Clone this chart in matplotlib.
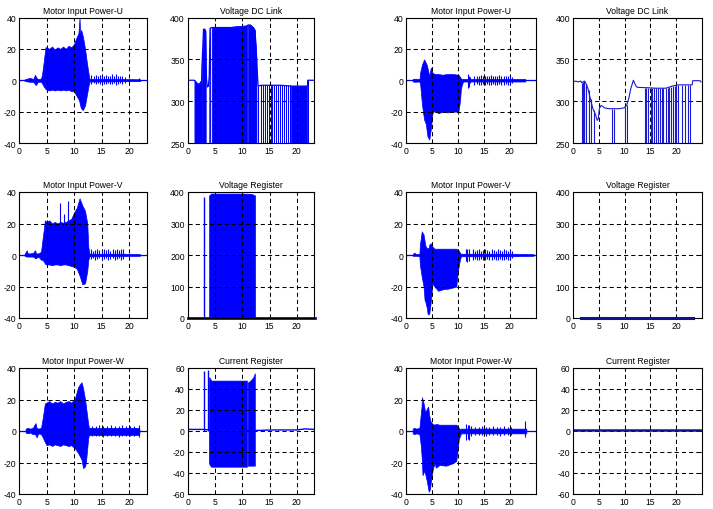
"""
Motor power / DC link / register traces, two runs side by side (MATLAB-style grid).
"""

import numpy as np
import matplotlib
matplotlib.use("Agg")
import matplotlib.pyplot as plt

plt.rcParams["font.family"] = ["Liberation Sans", "DejaVu Sans"]
plt.rcParams["lines.scale_dashes"] = False
plt.rcParams["axes.unicode_minus"] = False

BLUE = "#0000ff"
NAVY = "#12128e"

# ---------------------------------------------------------------
# Data (time in s)
# ---------------------------------------------------------------
# -- left run: Motor Input Power-U (envelope of the dense trace)
pu_l_t = [1.0, 1.6, 2.0, 2.6, 2.9, 3.1, 3.4, 4.0, 4.2, 4.5, 4.8, 5.0, 5.5, 6.0, 6.5, 7.0, 7.5,
          8.0, 8.5, 9.0, 9.5, 10.0, 10.3, 10.8, 11.0, 11.1, 11.3, 11.6, 12.0, 12.3, 12.6,
          12.8, 19.3, 22.0]
pu_l_hi = [0.5, 1.2, 1.5, 0.8, 3.5, 2.0, 0.8, 1.0, 4, 12, 21, 21, 20, 21.5, 19.5, 21, 20,
           21.5, 20, 22, 21, 23, 26, 30, 40, 30, 32, 28, 20, 12, 5, 0.8, 0.8, 0.6]
pu_l_lo = [-0.5, -0.8, -1.0, -1.0, -2.5, -3.0, -1.0, -1.0, -2, -4, -5.5, -6, -6.5, -6, -6.5,
           -6, -6.5, -6, -6.5, -6, -7, -7, -9, -12, -14, -16, -18, -19, -16, -10, -4, -0.8,
           -0.6, -0.5]
pu_l_spk_t = [13.1, 13.6, 13.9, 14.3, 14.7, 15.0, 15.4, 15.8, 16.1, 16.5, 16.9, 17.3, 17.6,
              18.0, 18.4, 18.8, 19.2, 21.8]
pu_l_spk_hi = [3.5, 2.5, 3.5, 3.0, 3.5, 2.5, 3.0, 3.5, 2.5, 3.0, 4.0, 3.0, 4.0, 3.0, 2.5,
               3.0, 2.0, 1.5]
pu_l_spk_lo = [-2.5, -2.0, -2.5, -2.0, -2.5, -2.0, -2.5, -2.5, -2.0, -2.5, -2.5, -2.0, -3.0,
               -2.5, -2.0, -2.5, -1.5, -0.5]

# -- left run: Motor Input Power-V
pv_l_t = [1.0, 1.4, 1.6, 2.0, 2.6, 2.9, 3.1, 3.5, 4.0, 4.2, 4.5, 4.7, 5.0, 5.5, 6.0, 6.5,
          7.0, 7.5, 8.0, 8.5, 9.0, 9.5, 10.0, 10.5, 11.0, 11.5, 12.0, 12.4, 12.6, 12.8,
          19.2, 22.0]
pv_l_hi = [0.5, 3.0, 1.0, 1.0, 1.5, 3.0, 1.0, 1.0, 2.0, 8, 16, 22, 21, 22, 20, 21, 20, 21,
           20.5, 21, 22, 23, 27, 30, 36, 31.5, 28, 20, 5, 0.8, 0.8, 0.5]
pv_l_lo = [-0.5, -1.0, -1.0, -1.0, -1.0, -2.0, -2.0, -1.0, -3.0, -3, -4, -5.5, -6, -6, -6.5,
           -6, -6, -6.5, -6, -6, -6.5, -7, -7.5, -8.7, -13, -18.6, -18, -10, -3, -0.8, -0.6,
           -0.5]
pv_l_spk_t = [7.5, 8.2, 8.9, 13.0, 13.4, 13.8, 14.2, 14.6, 15.0, 15.4, 15.8, 16.2, 16.6,
              17.0, 17.4, 17.8, 18.2, 18.6, 18.9]
pv_l_spk_hi = [33, 26, 34, 3.5, 2.5, 3.0, 4.0, 3.0, 2.5, 3.5, 3.0, 4.0, 2.5, 3.5, 3.0, 4.0,
               3.0, 3.5, 4.0]
pv_l_spk_lo = [0, 0, 0, -2.5, -2.0, -3.0, -2.5, -2.0, -3.0, -2.5, -2.0, -3.0, -2.5, -2.0,
               -3.0, -2.5, -2.0, -3.0, -2.5]

# -- left run: Motor Input Power-W
pw_l_t = [1.2, 1.6, 2.0, 2.5, 2.9, 3.0, 3.2, 3.5, 4.0, 4.3, 4.7, 5.0, 5.5, 6.0, 6.5, 7.0,
          7.5, 8.0, 8.5, 9.0, 9.5, 10.15, 10.75, 11.35, 11.65, 12.0, 12.15, 12.4, 12.55,
          12.7, 21.8, 21.9]
pw_l_hi = [1.5, 2.0, 1.5, 2.0, 4.5, 5.0, 2.0, 1.5, 2.0, 8, 17.5, 18, 19, 17.5, 18.5, 18, 19,
           17.5, 18.5, 19, 18, 20.6, 28, 31, 27, 20, 16, 9, 5, 2.0, 2.0, 0.5]
pw_l_lo = [-1.0, -1.5, -1.0, -2.0, -2.0, -2.5, -4.0, -1.5, -2.0, -4, -7, -9, -8.5, -9.5,
           -8.5, -9, -9.5, -8.5, -9, -9.5, -9, -11, -14, -18, -23.6, -22.5, -20, -11, -5,
           -2.5, -2.5, -0.5]
pw_l_spk_t = [13.2, 13.9, 14.6, 15.3, 16.0, 16.7, 17.4, 18.1, 18.8, 19.5, 20.2, 20.9, 21.8]
pw_l_spk_hi = [3.0, 3.0, 3.5, 3.0, 3.0, 3.5, 3.0, 3.0, 3.5, 3.0, 3.0, 3.0, 3.5]
pw_l_spk_lo = [-3.0, -3.0, -3.0, -3.5, -3.0, -3.0, -3.0, -3.5, -3.0, -3.0, -3.0, -3.0, -3.5]

# -- left run: Voltage DC Link (upper trace, filled spans, drop-outs)
dcl_l_t = [0, 1.23, 1.5, 1.8, 2.1, 2.4, 2.55, 2.6, 2.75, 2.9, 3.1, 3.26, 3.3, 3.45, 3.6,
           3.8, 3.95, 4.1, 4.4, 5.0, 6.0, 7.0, 8.0, 9.0, 10.0, 10.9, 11.05, 11.5, 12.0,
           12.3, 12.6, 12.9, 13.5, 15.0, 17.0, 19.0, 21.95, 22.0, 23.3]
dcl_l_v = [325, 325, 323, 321, 320, 323, 324, 340, 362, 386, 386, 384, 360, 326, 317, 318,
           330, 387, 388, 388, 388, 388, 388, 389, 389, 390, 391, 391, 388, 385, 352, 318,
           319, 319, 319, 318, 318, 325, 325]
dcl_l_fill = [(1.23, 2.55), (2.6, 3.3), (3.95, 4.1), (4.4, 10.9), (11.05, 12.6),
              (19.0, 21.95)]
dcl_l_drop_t = [12.9, 13.5, 13.85, 14.15, 14.6, 14.95, 15.2, 15.5, 15.8, 16.25, 16.55,
                16.9, 17.2, 17.65, 18.1, 18.45, 18.7, 22.0]
dcl_l_drop_v = [318, 319, 319, 319, 319, 319, 319, 319, 319, 319, 319, 319, 319, 319, 319,
                319, 319, 325]

# -- left run: Voltage Register
vr_l_spk_t = [3.07]
vr_l_spk_v = [384]
vr_l_t = [3.93, 4.3, 6.0, 8.0, 10.0, 11.7, 12.33]
vr_l_v = [389, 395, 395, 395, 395, 394, 389]

# -- left run: Current Register
cr_l_base_t = [0, 3.0, 3.8, 12.4, 16.0, 20.0, 21.5, 23.2]
cr_l_base_v = [1.5, 1.5, 1.0, 0.5, 1.0, 1.0, 2.0, 1.5]
cr_l_spk_t = [3.07, 3.74]
cr_l_spk_v = [57, 57.8]
cr_l_t = [3.9, 4.0, 4.3, 6.0, 8.0, 10.0, 10.85, 11.0, 11.5, 12.0, 12.3]
cr_l_hi = [51, 51, 48, 48, 48, 48, 48, 46, 48, 51, 55]
cr_l_lo = [-30, -32, -34, -34, -34, -34, -34, -33, -33, -33, -33]

# -- right run: Motor Input Power-U
pu_r_t = [1.3, 1.8, 2.3, 2.63, 2.75, 3.1, 3.5, 3.85, 4.0, 4.15, 4.5, 4.8, 5.1, 5.3, 5.6,
          6.3, 7.0, 8.0, 9.0, 10.1, 10.3, 10.45, 10.6, 11.0, 20.5, 23.0]
pu_r_hi = [0.8, 1.0, 0.8, 1.0, 5.0, 10, 13.3, 11, 10, 8, 2.7, 8, 5, 4.4, 4, 4, 3.5, 4, 4,
           3.5, 2.7, 2, 1, 0.8, 0.8, 0.8]
pu_r_lo = [-0.8, -1.0, -0.8, -1.0, -2.7, -15.5, -25, -28, -32, -35.7, -37.8, -31, -21, -20,
           -19.7, -21, -20, -20.5, -20, -20, -16, -12, -5, -0.8, -0.8, -0.8]
pu_r_spk_t = [11.9, 12.2, 12.4, 13.2, 13.6, 14.0, 14.4, 14.8, 15.2, 15.6, 16.0, 16.4, 16.8,
              17.2, 17.6, 18.0, 18.4, 18.8, 19.2, 19.6, 20.0, 20.4]
pu_r_spk_hi = [4.0, 3.0, 2.0, 3.0, 2.5, 3.0, 3.5, 2.5, 3.0, 3.0, 2.5, 3.5, 3.0, 2.5, 3.0,
               3.5, 2.5, 3.0, 3.0, 2.5, 3.0, 2.0]
pu_r_spk_lo = [-5.0, -4.0, -2.0, -3.0, -2.5, -3.0, -3.0, -2.5, -3.0, -2.5, -3.0, -3.0,
               -2.5, -3.0, -3.0, -2.5, -3.0, -3.0, -2.5, -3.0, -2.5, -2.0]

# -- right run: Motor Input Power-V
pv_r_t = [1.3, 1.6, 2.0, 2.6, 2.7, 3.05, 3.4, 3.6, 3.7, 3.9, 4.0, 4.2, 4.35, 4.5, 4.75, 5.1,
          5.2, 5.5, 6.2, 7.1, 8.4, 9.7, 9.9, 10.1, 10.4, 10.6, 20.5, 24.6]
pv_r_hi = [0.5, 1.5, 0.5, 0.8, 6.5, 15, 13, 9, 6.5, 5, 4.4, 4.4, 4.0, 6.5, 7.5, 5.5, 5, 4,
           4, 4, 4, 4, 3.5, 3.3, 1.5, 0.8, 0.8, 0.5]
pv_r_lo = [-0.5, -0.5, -0.5, -0.8, -6.3, -13.8, -20, -28.7, -29, -31.9, -33, -37.6, -37.6,
           -37.2, -30.8, -18, -18.5, -20, -22.7, -21.8, -21.2, -20, -13.8, -8.4, -3, -0.8,
           -0.8, -0.5]
pv_r_spk_t = [11.5, 11.8, 12.1, 12.9, 13.3, 13.7, 14.1, 14.5, 14.9, 15.3, 15.7, 16.1, 16.5,
              16.9, 17.3, 17.7, 18.1, 18.5, 18.9, 19.3, 19.7, 20.1, 20.45]
pv_r_spk_hi = [4.0, 3.5, 4.0, 3.5, 2.5, 3.0, 3.5, 2.5, 3.0, 3.5, 3.0, 2.5, 3.5, 3.0, 2.5,
               3.5, 3.0, 2.5, 3.5, 3.0, 2.5, 3.0, 2.5]
pv_r_spk_lo = [-4.0, -4.5, -4.0, -3.0, -2.5, -3.0, -3.0, -2.5, -3.0, -3.0, -2.5, -3.0,
               -3.0, -2.5, -3.0, -3.0, -2.5, -3.0, -3.0, -2.5, -3.0, -2.5, -2.0]

# -- right run: Motor Input Power-W
pw_r_t = [1.3, 1.6, 2.0, 2.6, 2.9, 3.0, 3.1, 3.2, 3.35, 3.55, 3.7, 3.9, 4.05, 4.2, 4.3, 4.4,
          4.5, 4.65, 4.85, 5.15, 5.5, 5.8, 6.45, 7.75, 9.0, 9.7, 9.9, 10.1, 10.2, 10.45,
          10.6, 20.5, 23.2]
pw_r_hi = [1.5, 2.0, 1.5, 2.0, 12, 15, 21.4, 20, 18.5, 15, 12, 13, 14.2, 15, 15.3, 12, 9.9,
           7, 5.5, 4.5, 4, 4.5, 4, 4, 4, 4, 3.4, 2.5, 1.8, 1, 1.5, 1.5, 1.5]
pw_r_lo = [-1.5, -2.0, -1.5, -2.0, -10, -15, -20, -28, -27, -25, -27, -30, -32, -35, -37,
           -38.5, -38, -36.8, -31, -24.8, -20.5, -23.3, -21.6, -22, -20.5, -19, -14, -7.5,
           -5, -3, -1.5, -1.5, -1.5]
pw_r_spk_t = [11.6, 11.9, 12.2, 12.5, 13.3, 14.0, 14.7, 15.4, 16.1, 16.8, 17.5, 18.2,
              18.9, 19.6, 20.3, 23.0]
pw_r_spk_hi = [4.4, 3.5, 4.0, 3.0, 2.5, 2.5, 3.0, 2.5, 2.5, 3.0, 2.5, 2.5, 3.0, 2.5, 2.5,
               6.6]
pw_r_spk_lo = [-6.0, -5.0, -5.5, -3.0, -2.5, -2.5, -2.5, -3.0, -2.5, -2.5, -2.5, -3.0,
               -2.5, -2.5, -2.5, -3.8]

# -- right run: Voltage DC Link
dcl_r_t = [0, 0.5, 1.0, 1.5, 1.7, 2.25, 2.6, 2.9, 3.2, 3.85, 4.3, 4.7, 4.9, 5.1, 5.45, 5.8,
           6.1, 7.0, 8.0, 9.0, 9.9, 10.4, 10.8, 11.2, 11.7, 11.9, 12.2, 12.5, 14.7, 16.0,
           18.0, 19.2, 20.5, 23.1, 23.2, 24.6, 24.8]
dcl_r_v = [323, 324, 323, 324, 322, 324, 320, 315, 307, 291, 285, 277, 279, 291, 295,
           293.5, 292, 291, 291, 291, 292, 295, 303, 315, 325, 322, 318, 316.5, 316, 315.5,
           315.5, 318, 319.5, 319.5, 324.5, 324.5, 323]
dcl_r_drop_t = [1.73, 1.86, 2.05, 2.18, 2.56, 3.08, 3.53, 4.04, 7.5, 8.0, 10.13, 10.38,
                13.97, 14.2, 14.6, 15.06, 15.4, 15.7, 16.15, 16.5, 16.86, 17.2, 17.5, 17.95,
                18.33, 18.7, 19.04, 19.42, 19.74, 20.0, 20.4, 21.15, 21.8, 22.3, 22.76]
dcl_r_drop_v = [322, 323, 324, 324, 320, 313, 303, 290, 291, 291, 293, 295, 316, 316, 316,
                315.5, 315.5, 315.5, 315.5, 315.5, 315.5, 315.5, 315.5, 315.5, 316, 317,
                317.5, 318, 318.5, 319, 319.5, 319.5, 319.5, 319.5, 319.5]

# -- right run: registers stay flat
vr_r_t = [1.6, 23.2]
vr_r_v = [0, 0]
cr_r_t = [0, 25]
cr_r_v = [1.0, 1.0]

# ---------------------------------------------------------------
# Layout (pixel boxes of the 713 x 510 reference)
# ---------------------------------------------------------------
W, H = 713, 510
col_left = [19, 187.7, 405.9, 573]
col_right = [146.7, 314.3, 535.7, 702]
row_top = [18.5, 193, 369]
row_bot = [144, 319, 495]

fig = plt.figure(figsize=(W / 100, H / 100), dpi=100)


def make_ax(r, c, title, ylim, yticks, xmax):
    x0, x1 = col_left[c], col_right[c]
    y0, y1 = row_top[r], row_bot[r]
    ax = fig.add_axes([x0 / W, 1 - y1 / H, (x1 - x0) / W, (y1 - y0) / H])
    ax.set_xlim(0, xmax)
    ax.set_ylim(*ylim)
    ax.set_xticks([0, 5, 10, 15, 20])
    ax.set_yticks(yticks)
    ax.grid(True, color="k", linestyle=(0, (3, 2.2)), linewidth=0.75)
    ax.tick_params(labelsize=6.2, direction="in", length=2, width=0.6, pad=2,
                   top=True, right=True)
    for s in ax.spines.values():
        s.set_linewidth(0.8)
    ax.set_title(title, fontsize=6.2, pad=3.5)
    return ax


def draw_power(ax, t, hi, lo, spk_t, spk_hi, spk_lo, t_end):
    ax.plot([0, t_end], [0, 0], color=BLUE, lw=0.9)
    ax.fill_between(t, lo, hi, color=BLUE, lw=0.5, edgecolor=BLUE)
    ax.vlines(spk_t, spk_lo, spk_hi, color=BLUE, lw=0.8)


P_TICKS = [-40, -20, 0, 20, 40]

# left run ------------------------------------------------------
ax = make_ax(0, 0, "Motor Input Power-U", (-40, 40), P_TICKS, 23.2)
draw_power(ax, pu_l_t, pu_l_hi, pu_l_lo, pu_l_spk_t, pu_l_spk_hi, pu_l_spk_lo, 23.2)

ax = make_ax(1, 0, "Motor Input Power-V", (-40, 40), P_TICKS, 23.2)
draw_power(ax, pv_l_t, pv_l_hi, pv_l_lo, pv_l_spk_t, pv_l_spk_hi, pv_l_spk_lo, 23.2)

ax = make_ax(2, 0, "Motor Input Power-W", (-40, 40), P_TICKS, 23.2)
draw_power(ax, pw_l_t, pw_l_hi, pw_l_lo, pw_l_spk_t, pw_l_spk_hi, pw_l_spk_lo, 23.2)

ax = make_ax(0, 1, "Voltage DC Link", (250, 400), [250, 300, 350, 400], 23.2)
tt = np.array(dcl_l_t)
vv = np.array(dcl_l_v)
ax.plot(tt, vv, color=BLUE, lw=0.9)
for a, b in dcl_l_fill:
    m = (tt >= a) & (tt <= b)
    ax.fill_between(tt[m], 250, vv[m], color=BLUE, lw=0.5, edgecolor=BLUE)
ax.vlines(dcl_l_drop_t, 250, dcl_l_drop_v, color=BLUE, lw=0.75)

ax = make_ax(1, 1, "Voltage Register", (0, 400), [0, 100, 200, 300, 400], 23.2)
ax.plot([0, 23.3], [0, 0], color=BLUE, lw=2.0, clip_on=False)
ax.vlines(vr_l_spk_t, 0, vr_l_spk_v, color=BLUE, lw=1.0)
ax.fill_between(vr_l_t, 0, vr_l_v, color=BLUE, lw=0.5, edgecolor=BLUE)

ax = make_ax(2, 1, "Current Register", (-60, 60), [-60, -40, -20, 0, 20, 40, 60], 23.2)
ax.plot(cr_l_base_t, cr_l_base_v, color=BLUE, lw=1.0)
ax.vlines(cr_l_spk_t, 0, cr_l_spk_v, color=BLUE, lw=1.0)
ct = np.array(cr_l_t)
for a, b in [(3.9, 10.85), (11.0, 12.3)]:
    m = (ct >= a) & (ct <= b)
    ax.fill_between(ct[m], np.array(cr_l_lo)[m], np.array(cr_l_hi)[m],
                    color=BLUE, lw=0.5, edgecolor=BLUE)

# right run -----------------------------------------------------
ax = make_ax(0, 2, "Motor Input Power-U", (-40, 40), P_TICKS, 25)
draw_power(ax, pu_r_t, pu_r_hi, pu_r_lo, pu_r_spk_t, pu_r_spk_hi, pu_r_spk_lo, 25)

ax = make_ax(1, 2, "Motor Input Power-V", (-40, 40), P_TICKS, 25)
draw_power(ax, pv_r_t, pv_r_hi, pv_r_lo, pv_r_spk_t, pv_r_spk_hi, pv_r_spk_lo, 25)

ax = make_ax(2, 2, "Motor Input Power-W", (-40, 40), P_TICKS, 25)
draw_power(ax, pw_r_t, pw_r_hi, pw_r_lo, pw_r_spk_t, pw_r_spk_hi, pw_r_spk_lo, 25)

ax = make_ax(0, 3, "Voltage DC Link", (250, 400), [250, 300, 350, 400], 25)
ax.plot(dcl_r_t, dcl_r_v, color="#1a1ad0", lw=0.8)
ax.vlines(dcl_r_drop_t, 250, dcl_r_drop_v, color="#1a1ad0", lw=0.8)

ax = make_ax(1, 3, "Voltage Register", (0, 400), [0, 100, 200, 300, 400], 25)
ax.plot(vr_r_t, vr_r_v, color=NAVY, lw=2.2, clip_on=False, zorder=3)

ax = make_ax(2, 3, "Current Register", (-60, 60), [-60, -40, -20, 0, 20, 40, 60], 25)
ax.plot(cr_r_t, cr_r_v, color=NAVY, lw=1.8)

fig.savefig("out.png", dpi=100)
